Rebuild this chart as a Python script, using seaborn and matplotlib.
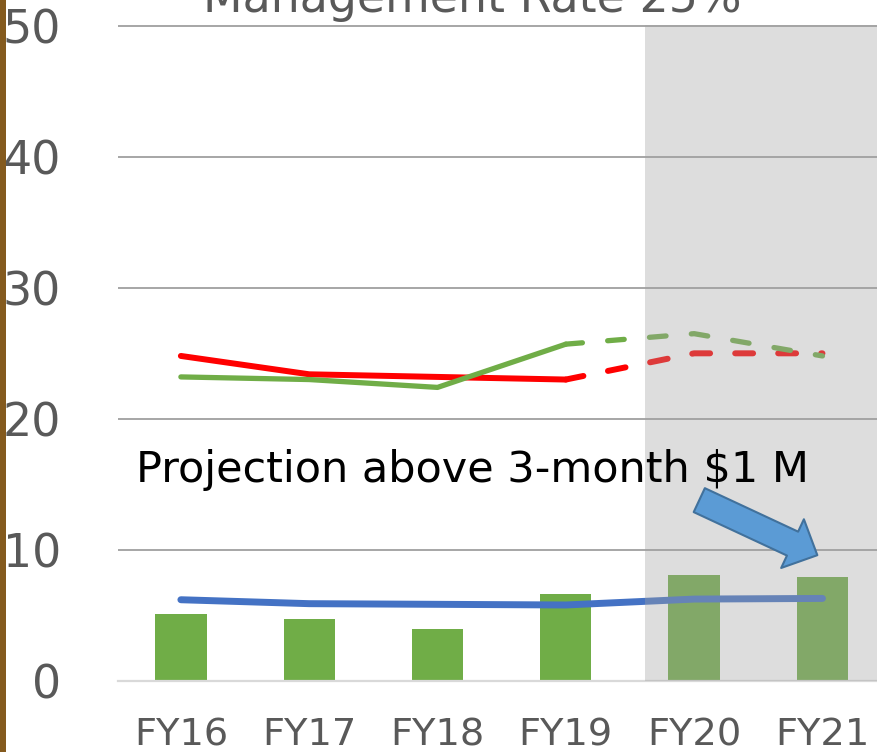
import numpy as np
import seaborn as sns
import matplotlib.pyplot as plt
from matplotlib.patches import FancyArrowPatch, Rectangle

# data
years = ["FY16", "FY17", "FY18", "FY19", "FY20", "FY21"]
bar_values = [5.1, 4.7, 4.0, 6.6, 8.1, 7.9]
blue_values = [6.2, 5.9, 5.85, 5.8, 6.25, 6.3]
red_values = [24.8, 23.4, 23.2, 23.0, 25.0, 25.0]
green_values = [23.2, 23.0, 22.4, 25.7, 26.5, 24.8]
y_ticks = [0, 10, 20, 30, 40, 50]
first_projected = 3  # lines turn dashed from FY19 on
shade_start = 3.62   # grey projection band

title_text = "Management Rate 25%"
note_text = "Projection above 3-month $1 M"
arrow_tail = (4.04, 13.8)
arrow_tip = (4.96, 9.6)

GREEN = "#70AD47"
RED = "#FF0000"
BLUE = "#4472C4"
GREY_TEXT = "#595959"

sns.set_theme(style="white")
plt.rcParams["font.family"] = ["DejaVu Sans"]

fig = plt.figure(figsize=(8.77, 7.52), dpi=100)
ax = fig.add_axes([118 / 877, 71 / 752, 759 / 877, 656 / 752])

# bars
sns.barplot(x=years, y=bar_values, color=GREEN, saturation=1, width=0.4,
            linewidth=0, ax=ax, zorder=2)

# lines: solid for actuals, dashed for projections
actual = slice(0, first_projected + 1)
proj = slice(first_projected, None)
sns.lineplot(x=years[actual], y=red_values[actual], color=RED, lw=4.3,
             solid_capstyle="round", ax=ax, zorder=3)
sns.lineplot(x=years[proj], y=red_values[proj], color=RED, lw=4.3,
             linestyle=(0, (3.0, 4.2)), dash_capstyle="round", ax=ax, zorder=3)
sns.lineplot(x=years[actual], y=green_values[actual], color=GREEN, lw=3.8,
             solid_capstyle="round", ax=ax, zorder=3)
sns.lineplot(x=years[proj], y=green_values[proj], color=GREEN, lw=3.8,
             linestyle=(0, (3.15, 4.8)), dash_capstyle="round", ax=ax, zorder=3)
sns.lineplot(x=years, y=blue_values, color=BLUE, lw=5, solid_capstyle="round",
             ax=ax, zorder=3)

# grey projection band sits over the marks
ax.axvspan(shade_start, 6, color="#A2A2A2", alpha=0.364, lw=0, zorder=5)

ax.set_xlim(-0.49, 5.425)
ax.set_ylim(0, 50.05)
ax.set_yticks(y_ticks)
ax.set_xlabel("")
ax.set_ylabel("")

ax.set_axisbelow(True)
ax.yaxis.grid(True, color="#A6A6A6", lw=1.4)
ax.yaxis.get_gridlines()[0].set_visible(False)
for s in ["left", "top", "right"]:
    ax.spines[s].set_visible(False)
ax.spines["bottom"].set_color("#D9D9D9")
ax.spines["bottom"].set_linewidth(1.6)
ax.tick_params(axis="y", labelsize=33, colors=GREY_TEXT, length=0, pad=41)
ax.tick_params(axis="x", labelsize=27.6, colors=GREY_TEXT, length=0, pad=26)

# annotation text and block arrow
ax.text(2.27, 15.17, note_text, ha="center", va="baseline", fontsize=31,
        color="black", zorder=8)
arrow = FancyArrowPatch(arrow_tail, arrow_tip,
                        arrowstyle="simple,head_length=19.7,head_width=38.7,tail_width=19",
                        mutation_scale=1, fc="#5B9BD5", ec="#41719C", lw=1.5,
                        shrinkA=0, shrinkB=0, zorder=8)
ax.add_patch(arrow)

# title cut off by the top edge, as in the slide
fig.text(472 / 877, 1 - 12 / 752, title_text, ha="center", va="baseline",
         fontsize=33, color=GREY_TEXT)

# brown slide border on the left
fig.add_artist(Rectangle((0, 0), 6 / 877, 1, transform=fig.transFigure,
                         color="#845A1E", lw=0))

fig.savefig("out.png", dpi=100)
